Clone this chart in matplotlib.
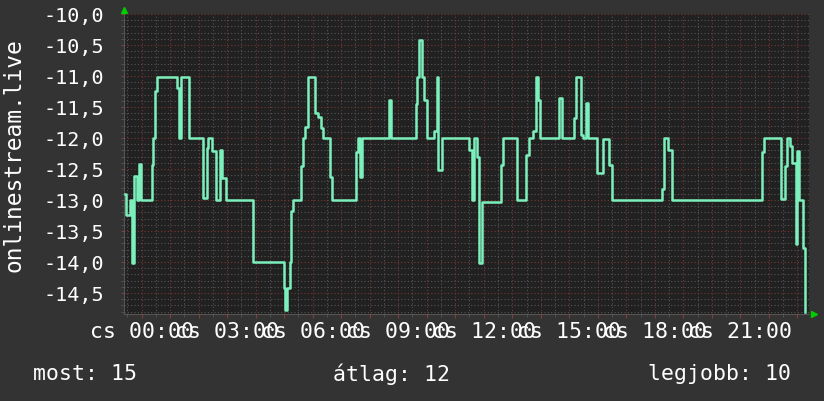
import matplotlib
matplotlib.use("Agg")
import matplotlib.pyplot as plt
from matplotlib.ticker import FixedLocator, MultipleLocator, FuncFormatter

# step changes: hour of day, value
hours = [-0.60, -0.55, -0.42, -0.33, -0.28, -0.16, -0.10, -0.04, 0.35, 0.41,
         0.47, 0.54, 1.24, 1.30, 1.38, 1.66, 2.15, 2.29, 2.33, 2.48,
         2.60, 2.76, 2.82, 2.95, 3.92, 4.99, 5.04, 5.09, 5.19, 5.25,
         5.31, 5.59, 5.66, 5.72, 5.85, 6.08, 6.20, 6.28, 6.35, 6.61,
         6.67, 7.51, 7.60, 7.66, 7.72, 8.68, 8.74, 9.61, 9.67, 9.74,
         9.85, 9.91, 10.00, 10.27, 10.35, 10.41, 10.53, 11.49, 11.58, 11.66,
         11.75, 11.85, 11.93, 12.60, 12.67, 13.18, 13.48, 13.60, 13.72, 13.83,
         13.92, 13.98, 14.65, 14.74, 15.17, 15.24, 15.40, 15.49, 15.59, 15.67,
         15.99, 16.18, 16.41, 16.49, 18.25, 18.33, 18.48, 18.60, 21.75, 21.83,
         22.42, 22.58, 22.65, 22.75, 22.81, 22.96, 23.00, 23.07, 23.21, 23.27]
values = [-12.90, -13.25, -13.00, -14.02, -12.62, -13.00, -12.42, -13.00, -12.43, -12.00,
          -11.25, -11.02, -11.20, -12.00, -11.02, -12.00, -12.97, -12.16, -12.00, -12.21,
          -13.00, -12.20, -12.65, -13.00, -14.00, -14.42, -14.77, -14.42, -14.00, -13.18,
          -13.00, -12.45, -12.00, -11.82, -11.02, -11.60, -11.66, -11.84, -12.00, -12.63,
          -13.00, -12.23, -12.00, -12.63, -12.00, -11.38, -12.00, -11.45, -11.02, -10.42,
          -11.02, -11.38, -12.00, -11.89, -11.02, -12.51, -12.00, -12.20, -13.00, -12.00,
          -12.30, -14.02, -13.03, -12.43, -12.00, -13.00, -12.28, -12.00, -11.88, -11.02,
          -11.38, -12.00, -11.35, -12.00, -11.67, -11.02, -11.96, -12.00, -11.44, -12.00,
          -12.56, -12.02, -12.43, -13.00, -12.83, -12.00, -12.19, -13.00, -12.23, -12.00,
          -12.98, -12.45, -12.00, -12.13, -12.40, -13.71, -12.21, -13.00, -13.77, -14.81]

host = "onlinestream.live"
day = "cs"
stats = ["most: 15", "átlag: 12", "legjobb: 10"]

bg = "#333333"
plot_bg = "#212121"
line_col = "#7cf0bc"
mono = "DejaVu Sans Mono"

fig = plt.figure(figsize=(8.24, 4.02), dpi=100, facecolor=bg)
ax = fig.add_axes([124/824, 1 - 315/402, (809 - 124)/824, (315 - 15)/402])
ax.set_facecolor(plot_bg)

ax.plot(hours, values, drawstyle="steps-post", color=line_col, lw=1.8, zorder=3)

ax.set_xlim(-0.62, 23.41)
ax.set_ylim(-14.84, -10.0)

ax.xaxis.set_major_locator(FixedLocator(range(0, 24)))
ax.xaxis.set_minor_locator(MultipleLocator(0.5))
ax.xaxis.set_major_formatter(FuncFormatter(
    lambda h, p: f"{day} {int(round(h)):02d}:00" if int(round(h)) % 3 == 0 else ""))
ax.yaxis.set_major_locator(MultipleLocator(0.5))
ax.yaxis.set_minor_locator(MultipleLocator(0.1))
ax.yaxis.set_major_formatter(FuncFormatter(lambda v, p: f"{v:.1f}".replace(".", ",")))

ax.grid(which="minor", color="#555555", linestyle=(0, (1, 2)), lw=0.8)
ax.grid(which="major", color="#7a3636", linestyle=(0, (1, 2)), lw=0.8)
ax.set_axisbelow(True)

ax.tick_params(axis="x", which="major", colors="#8a3a3a", length=3, pad=2,
               labelcolor="white", labelsize=15.5)
ax.tick_params(axis="x", which="minor", colors="#555555", length=2)
ax.tick_params(axis="y", which="major", colors="#8a3a3a", length=2, pad=12,
               labelcolor="white", labelsize=14.5)
ax.tick_params(axis="y", which="minor", colors="#555555", length=2)
for lab in ax.get_xticklabels() + ax.get_yticklabels():
    lab.set_family(mono)

for s in ax.spines.values():
    s.set_color("#555555")
ax.spines["top"].set_visible(False)
ax.spines["right"].set_visible(False)

# small green arrow heads at the axis ends
ax.plot([0], [1.012], marker="^", color="#00cc00", ms=5, transform=ax.transAxes,
        clip_on=False, zorder=5)
ax.plot([1.008], [0], marker=">", color="#00cc00", ms=5, transform=ax.transAxes,
        clip_on=False, zorder=5)

fig.text(14/824, 1 - 155/402, host, rotation=90, color="white", family=mono,
         fontsize=16.5, ha="center", va="center")

fig.text(33/824, 1 - 374/402, stats[0], color="white", family=mono, fontsize=15.5,
         ha="left", va="center")
fig.text(333/824, 1 - 374/402, stats[1], color="white", family=mono, fontsize=15.5,
         ha="left", va="center")
fig.text(791/824, 1 - 374/402, stats[2], color="white", family=mono, fontsize=15.5,
         ha="right", va="center")

fig.savefig("out.png", dpi=100, facecolor=bg)
